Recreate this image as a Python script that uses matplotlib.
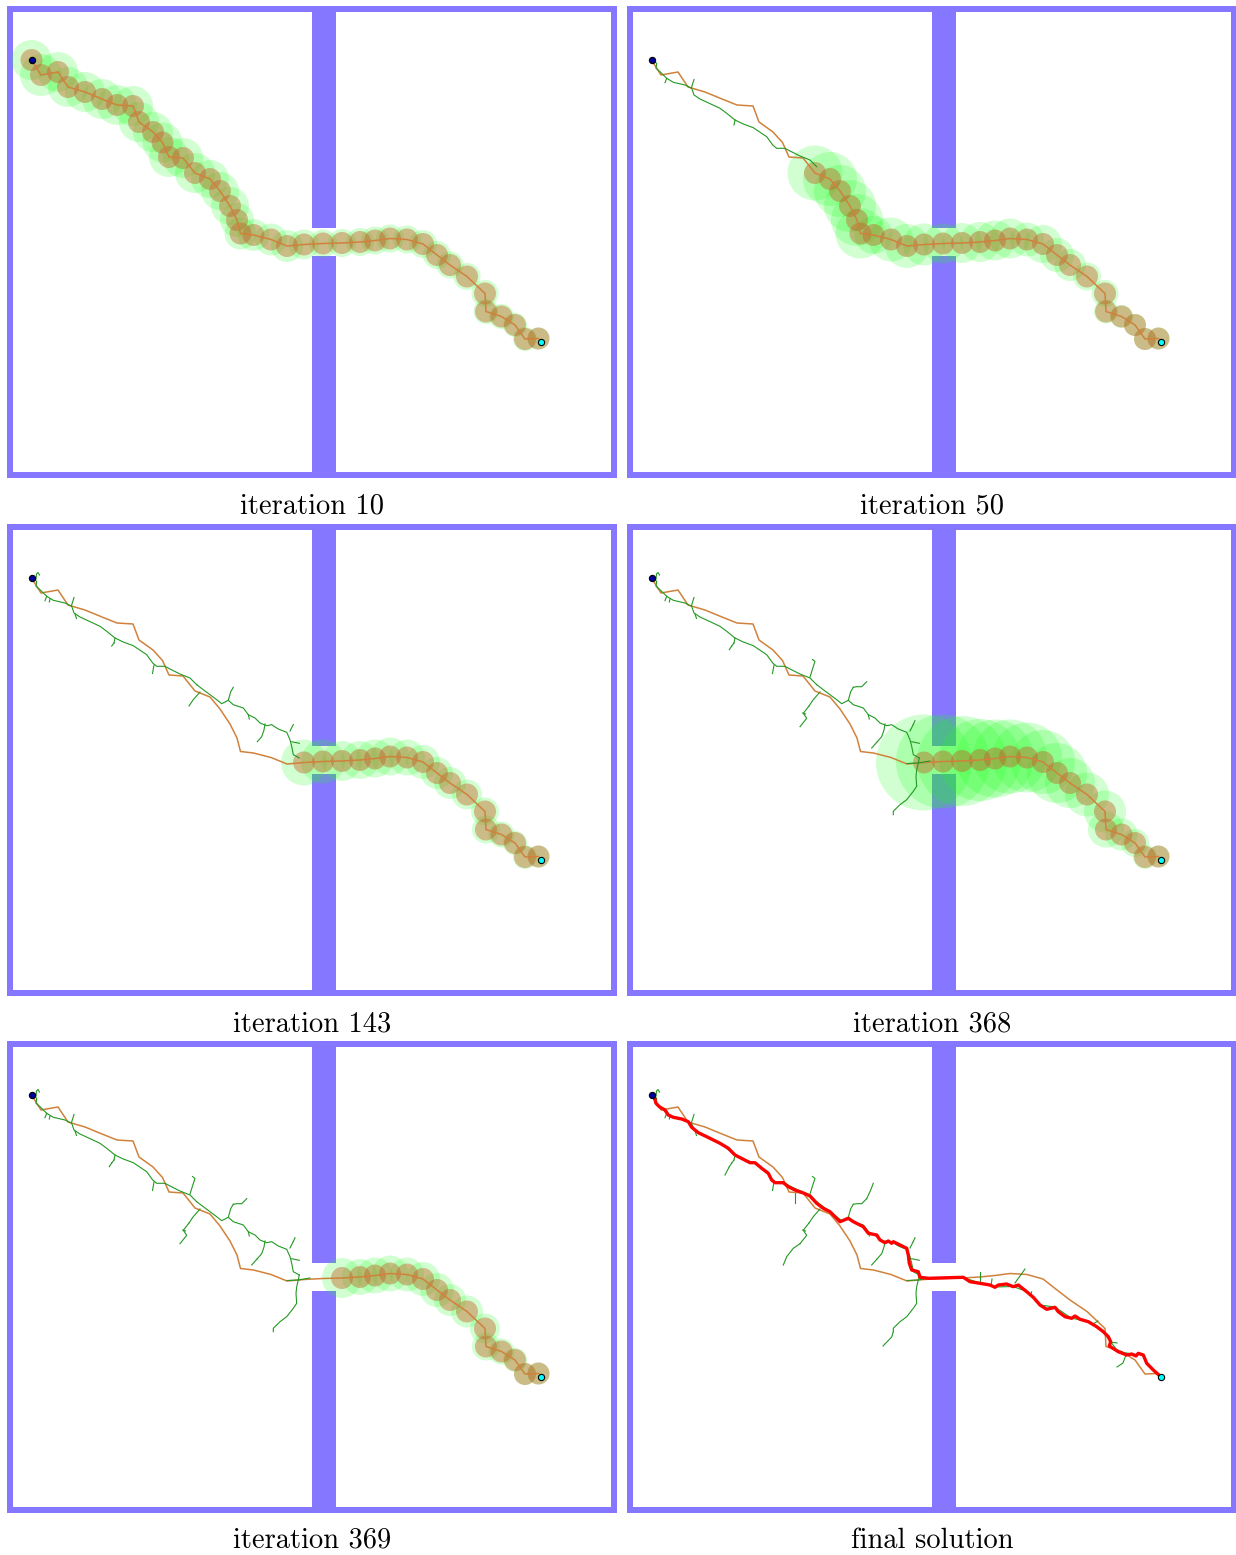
import matplotlib.pyplot as plt
from matplotlib.patches import Circle, Rectangle

# map extents, walls and the door in the middle wall (map units)
W, H = 610, 471.5
border = 5.7
wall_x0, wall_x1 = 304.5, 328.5
door_y0, door_y1 = 222.3, 249.8
wall_color = "#8577ff"

captions = ["iteration 10", "iteration 50", "iteration 143",
            "iteration 368", "iteration 369", "final solution"]

start = (24.5, 54)
goal = (534, 336)

# trajectory nodes
path_x = [24.5, 34, 51, 61, 78, 95, 110, 126, 132, 146, 155.5, 162, 176, 188,
          203, 213, 223, 230, 233.5, 246.5, 264, 280, 297, 316, 335, 353, 368,
          383, 400, 416, 430, 443, 460, 478, 479, 494.5, 508, 518, 531.5]
path_y = [54, 69, 66, 81, 86, 93, 99, 100, 116, 126, 136.5, 151, 152, 167,
          173, 185, 200, 214, 227.5, 229, 233.5, 240, 238.5, 237.5, 237, 236,
          234.5, 232.5, 233.5, 238, 249, 259, 270.5, 287.5, 305.5, 310.5, 319,
          333, 332.5]

# robot ball radius and the clearance balls of each snapshot
ball_r = 11
ball_from = [0, 13, 22, 22, 24]
clear_r10 = [20, 21, 20, 20, 20, 20, 20, 20, 20, 20, 20, 20, 20, 20, 19, 19,
             19, 17, 16, 16, 16, 16, 15, 14, 14, 14, 14, 14, 14, 14, 14, 13.5,
             13.5, 13.5, 12.5, 12.5, 12, 12, 11]
clear_r50 = [27.5, 27, 26, 26, 26, 25, 19, 22, 22, 21, 20, 20, 20, 20, 20, 17,
             19, 17, 16, 14, 13.5, 12, 11.5, 11, 11, 11]
clear_r143 = [23, 22, 20, 19, 19, 19, 18, 17, 16, 16, 15, 14, 14, 13, 12, 12, 11]
clear_r368 = [48, 47, 45, 41, 39, 37, 35, 32, 30, 25, 22, 21, 18, 16, 14, 12, 11]
clear_r369 = [20, 18, 18, 18, 17, 17, 17, 16, 16, 15, 14, 13, 12, 11, 11]
clear_radii = [clear_r10, clear_r50, clear_r143, clear_r368, clear_r369]

# tree edges, tagged with the growth stage at which they exist
tree_stage = [0, 1, 2, 3, 3, 4]
tree = [
    (1, [(24.7, 54), (29.7, 57.3), (29, 62.3), (33, 65.7), (39.7, 72.3),
         (46.3, 76.3), (58, 79), (64.7, 82.3), (67, 89), (73, 93), (93, 102.3),
         (99.7, 107.3), (108, 114), (116.3, 118), (126.3, 121.7),
         (139.7, 130.7), (145.7, 139), (149.7, 142.3), (158, 142.3),
         (163, 145), (173, 150), (183, 154), (189.7, 160.7)]),
    (1, [(39.7, 72.3), (38, 76.7)]),
    (1, [(64.5, 81.5), (67, 73.5)]),
    (1, [(108, 114), (107, 119)]),
    (2, [(189.7, 160.7), (196.3, 165.7), (203, 170.7), (209.7, 175.7),
         (214.7, 179.7), (221.3, 176.3), (226.3, 180.7), (236.3, 184),
         (241.3, 190.7), (248, 194), (253, 199), (259.7, 201.7),
         (264.7, 200.7), (271.3, 205), (279.7, 208.3), (283, 215.7),
         (284.7, 222.3), (286.3, 230.7), (292.3, 234)]),
    (2, [(29, 55), (29.5, 50), (31, 48.5), (32.5, 51)]),
    (2, [(43, 75), (42.3, 78)]),
    (2, [(68, 90), (69.5, 94.5)]),
    (2, [(107, 119), (104.7, 122)]),
    (2, [(147, 141), (145.5, 149.5)]),
    (2, [(193, 168), (186, 176), (182, 182)]),
    (2, [(221.3, 176.3), (223.7, 167.7), (226.3, 163.3)]),
    (2, [(241.3, 190.7), (242.3, 195)]),
    (2, [(258, 200), (257, 206), (254.7, 212.7), (250.3, 217.7)]),
    (2, [(283, 207), (286.3, 200.5)]),
    (2, [(284.7, 217.7), (292.3, 219.3)]),
    (3, [(292.3, 234), (291.3, 239), (289.7, 245.7), (289, 252.3),
         (289.7, 262.3), (286.3, 267.3), (279.7, 275.7), (273, 280.7),
         (266.3, 287.3), (266.3, 290.7)]),
    (3, [(280, 239.5), (291.3, 239), (303, 237)]),
    (3, [(183, 153), (185.5, 145), (188, 137.5), (185.5, 135.5)]),
    (3, [(104.7, 122), (102.3, 125.7)]),
    (3, [(182, 182), (176.3, 189.3), (179.7, 194.3), (173, 202.7)]),
    (3, [(175.7, 189), (178.5, 190)]),
    (3, [(226.3, 163.3), (229.7, 162.7), (234.7, 162.7), (239.7, 157.7)]),
    (3, [(250.3, 217.7), (244.7, 224)]),
    (3, [(286.3, 200.5), (288, 196.7)]),
    (4, [(102.3, 125.7), (98, 134)]),
    (4, [(173, 202.7), (166.3, 207.3), (159.7, 215.7), (156.3, 224)]),
    (4, [(239.7, 157.7), (243.7, 149), (246.3, 142.3)]),
    (4, [(266.3, 290.7), (264.7, 296), (256, 305)]),
    (4, [(168, 152), (168, 162)]),
    (4, [(303, 237), (336, 236.5), (353, 242), (368, 246), (386, 245.5),
         (400, 250.5), (413, 264), (428, 266), (444, 277), (461, 280.5),
         (476, 290.5), (483.5, 300.5), (491, 310.5), (505, 313), (516, 314)]),
    (4, [(353, 241), (353, 231)]),
    (4, [(364, 245), (365, 238)]),
    (4, [(388, 242), (398, 228)]),
    (4, [(404.7, 250.7), (403.7, 254)]),
    (4, [(466, 283), (471, 280)]),
    (4, [(483, 301), (490, 302)]),
    (4, [(499, 314), (496, 322), (490, 326)]),
]

# final path extracted from the tree
red_x = [24.7, 27.3, 29, 32.3, 38, 41.3, 46.3, 54.7, 61.3, 64.7, 71.3, 79.7, 93,
         101.3, 108, 116.3, 123, 128, 134.7, 141.3, 144.7, 148, 156.3, 161.3,
         168, 175.7, 183, 189.7, 196.3, 203, 208, 213, 221.3, 226.3, 236.3,
         241.3, 249.7, 253, 258, 261.3, 264.7, 266.3, 273, 279.7, 281.3, 282.3,
         284.7, 291.3, 293, 301.3, 336.3, 343, 353, 363, 368, 371.3, 379.7,
         386.3, 391.3, 399.7, 406.3, 413, 419.7, 428, 431.3, 438, 444.7, 448,
         453, 461.3, 469.7, 476.3, 481.3, 483.7, 482.3, 491.3, 499.7, 504.7,
         509, 511.3, 516.3, 519.7, 526.3, 533]
red_y = [54, 56.3, 62.3, 65.7, 69, 74, 76.3, 78, 80.7, 86.3, 91.7, 95.7, 102.3,
         107.3, 114, 118.3, 121.7, 121.7, 127.3, 132.3, 139, 141.7, 141.7, 145.7,
         149, 151.7, 155, 162.3, 167.3, 170.7, 175.7, 180.7, 177.3, 180.7, 185.7,
         192.3, 194, 199, 201.7, 200, 202.3, 200.7, 204, 207.3, 214, 222.3, 229,
         230.7, 236.3, 237.3, 236.3, 240.7, 242.3, 244, 246.3, 244, 243, 245.7,
         244, 250.7, 256.3, 264, 268.3, 266.3, 270.7, 275.7, 277.3, 275, 278.3,
         280.7, 285.7, 290.7, 295.7, 300.7, 305, 310.7, 314, 313, 315, 312.3,
         314, 322.3, 329, 335]

fig_w, fig_h = 1236, 1555
col_x = [7, 627]
row_y = [6, 524, 1041]
caption_base = [513.5, 1031, 1548]

fig = plt.figure(figsize=(fig_w / 100, fig_h / 100), dpi=100)

for i in range(6):
    x0 = col_x[i % 2]
    y0 = row_y[i // 2]
    ax = fig.add_axes([x0 / fig_w, 1 - (y0 + H) / fig_h, W / fig_w, H / fig_h])
    ax.set_xlim(0, W)
    ax.set_ylim(H, 0)
    ax.axis("off")

    walls = [(0, 0, border, H), (W - border, 0, border, H),
             (0, 0, W, border), (0, H - border, W, border),
             (wall_x0, 0, wall_x1 - wall_x0, door_y0),
             (wall_x0, door_y1, wall_x1 - wall_x0, H - door_y1)]
    for rx, ry, rw, rh in walls:
        ax.add_patch(Rectangle((rx, ry), rw, rh, facecolor=wall_color, lw=0, zorder=1))

    if i < 5:
        k = ball_from[i]
        for j, r in enumerate(clear_radii[i]):
            ax.add_patch(Circle((path_x[k + j], path_y[k + j]), r,
                                facecolor=(0.1, 1.0, 0.1), alpha=0.2, lw=0, zorder=2))
        for j in range(k, len(path_x)):
            ax.add_patch(Circle((path_x[j], path_y[j]), ball_r,
                                facecolor=(0.76, 0.40, 0.16), alpha=0.44, lw=0, zorder=3))

    ax.plot(path_x, path_y, color="#d0823c", lw=1.1, zorder=4)

    for stage, pts in tree:
        if stage <= tree_stage[i]:
            xs = [p[0] for p in pts]
            ys = [p[1] for p in pts]
            ax.plot(xs, ys, color="#229922", lw=0.8, zorder=5)

    if i == 5:
        ax.plot(red_x, red_y, color="red", lw=2.4, zorder=6,
                solid_joinstyle="round", solid_capstyle="round")

    ax.plot(*start, marker="o", ms=4.5, mfc="#0000a0", mec="black", mew=0.8, zorder=7)
    ax.plot(*goal, marker="o", ms=4.5, mfc="cyan", mec="black", mew=0.8, zorder=7)

    fig.text((x0 + W / 2) / fig_w, 1 - caption_base[i // 2] / fig_h, captions[i],
             ha="center", va="baseline", fontsize=20.5, family="cmr10")

fig.savefig("out.png", dpi=100)
